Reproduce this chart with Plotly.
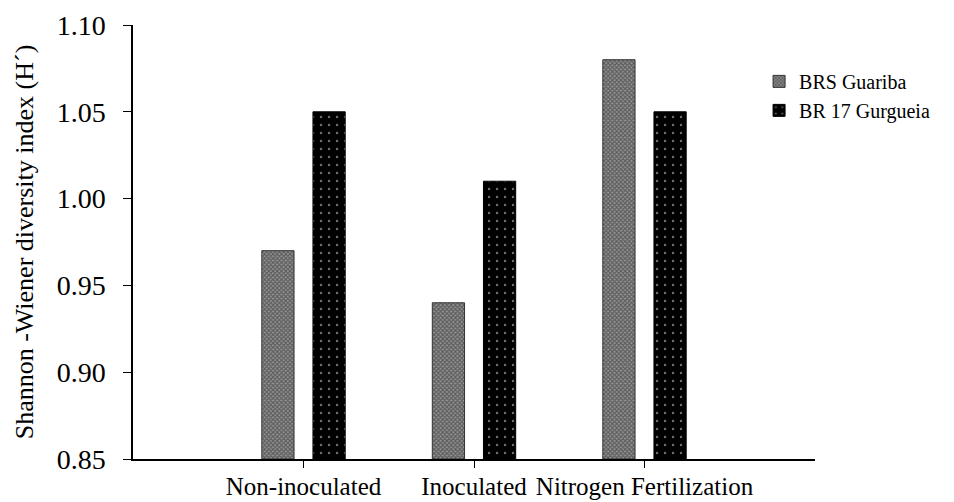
import plotly.graph_objects as go

categories = ["Non-inoculated", "Inoculated", "Nitrogen Fertilization"]
guariba = [0.97, 0.94, 1.08]
gurgueia = [1.05, 1.01, 1.05]
y_ticks = [0.85, 0.90, 0.95, 1.00, 1.05, 1.10]
y_tick_text = ["0.85", "0.90", "0.95", "1.00", "1.05", "1.10"]

FONT = "Times New Roman, Liberation Serif, DejaVu Serif, serif"
x_idx = list(range(len(categories)))

fig = go.Figure()
fig.add_trace(go.Bar(
    x=x_idx, y=[v - 0.85 for v in guariba], base=0.85, name="BRS Guariba",
    marker=dict(color="#808080", line=dict(color="#333", width=1),
                pattern=dict(shape="x", fgcolor="#222222", bgcolor="#959595", size=3, solidity=0.6)),
))
fig.add_trace(go.Bar(
    x=x_idx, y=[v - 0.85 for v in gurgueia], base=0.85, name="BR 17 Gurgueia",
    marker=dict(color="black", line=dict(color="black", width=1),
                pattern=dict(shape=".", fgcolor="#e0e0e0", bgcolor="black", size=8, solidity=0.07)),
))

fig.update_layout(
    width=954, height=502,
    margin=dict(l=133, r=139, t=25, b=43),
    paper_bgcolor="white", plot_bgcolor="white",
    barmode="group", bargap=0.4, bargroupgap=0.37,
    font=dict(family=FONT, color="black"),
    showlegend=True,
    legend=dict(x=0.918, y=0.915, xanchor="left", yanchor="top",
                font=dict(family=FONT, size=20, color="black"),
                bgcolor="rgba(0,0,0,0)", tracegroupgap=0, itemwidth=30),
    xaxis=dict(range=[-1.0, 3.0], tickmode="array", tickvals=x_idx, ticktext=categories,
               showline=True, linecolor="black", linewidth=1.5, ticks="outside",
               ticklen=7, tickcolor="black", showgrid=False, zeroline=False,
               automargin=False, ticklabelstandoff=-3,
               tickfont=dict(family=FONT, size=25, color="black")),
    yaxis=dict(range=[0.85, 1.10], tickmode="array", tickvals=y_ticks, ticktext=y_tick_text,
               showline=True, linecolor="black", linewidth=1.5, ticks="outside",
               ticklen=8, tickcolor="black", showgrid=False, zeroline=False,
               automargin=False, ticklabelstandoff=12,
               tickfont=dict(family=FONT, size=28, color="black"),
               title=dict(text="Shannon -Wiener diversity index (H´)",
                          font=dict(family=FONT, size=26, color="black"), standoff=16)),
)

fig.write_html("out.html", config={"displayModeBar": False},
               post_script="document.body.style.margin='0';document.body.style.overflow='hidden';")
